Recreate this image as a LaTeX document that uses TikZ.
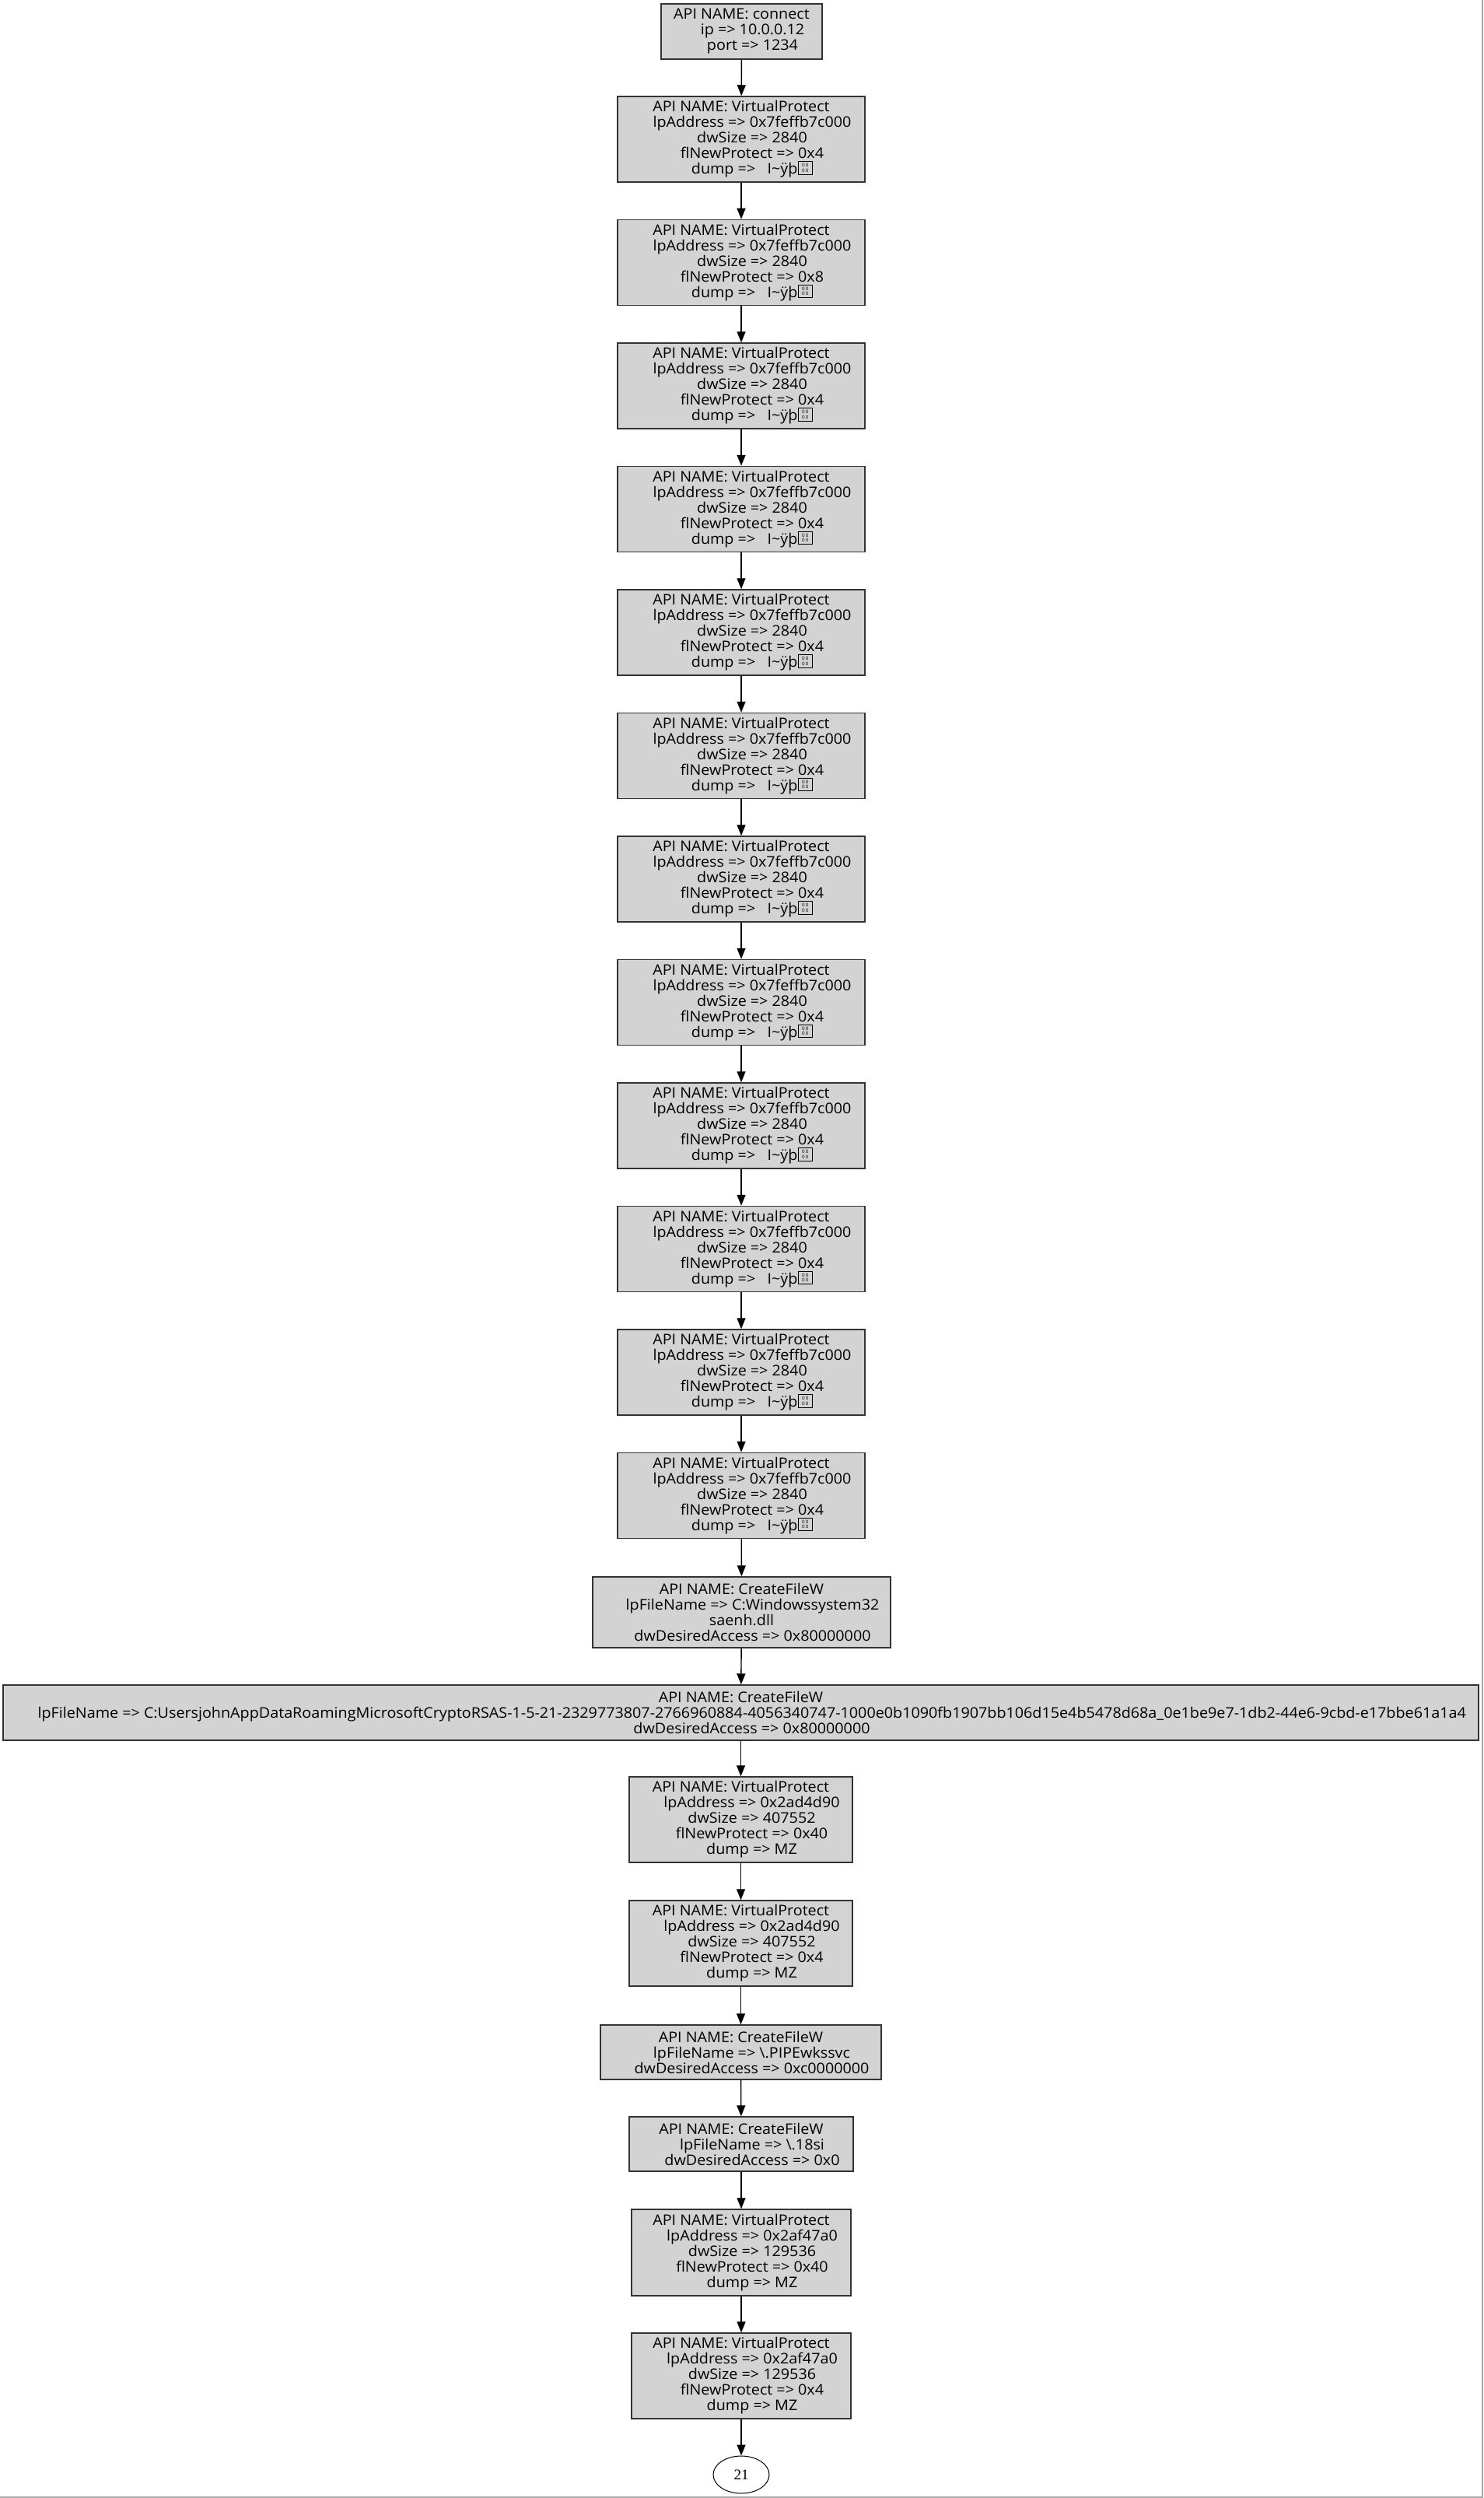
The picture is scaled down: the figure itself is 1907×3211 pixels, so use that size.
\documentclass[tikz,border=0pt]{standalone}
\usepackage{fontspec}
\setmainfont[FakeStretch=1.05]{Open Sans}
\newfontfamily\myseriffont{Liberation Serif}
\usetikzlibrary{arrows.meta,shapes.geometric}
\definecolor{boxgray}{HTML}{D3D3D3}
\definecolor{framegray}{HTML}{A8A8A8}
\newcommand{\myind}{\hspace*{14pt}}
\newcommand{\mytofu}{\setlength{\fboxsep}{0pt}\setlength{\fboxrule}{0.4pt}\fbox{\parbox[b][8pt][c]{9pt}{\centering\fontsize{3}{3.4}\selectfont 0\,0\\0\,0}}}
\newcommand{\vptext}[1]{API NAME: VirtualProtect\\\myind lpAddress => 0x7feffb7c000\\\myind dwSize => 2840\\\myind flNewProtect => #1\\\myind dump => \ \ I\textasciitilde ÿþ\mytofu}
\tikzset{
  apibox/.style={draw=black!80, fill=boxgray, line width=0.75pt, rectangle, align=center, inner sep=0pt, font=\fontsize{9.4}{10}\selectfont},
  flow/.style={-{Triangle[length=7pt,width=5.5pt]}, line width=0.7pt, black}
}
\begin{document}
\begin{tikzpicture}[x=0.5pt,y=0.5pt]
\useasboundingbox (0,0) rectangle (1907,-3211);
\fill[white] (0,0) rectangle (1907,-3211);
\draw[framegray, line width=1pt] (1906,0) -- (1906,-3210) -- (0,-3210);

\node[apibox, minimum width=103.5pt, minimum height=35.5pt] (c1) at (953.5,-40.5)
  {API NAME: connect\\\myind ip => 10.0.0.12\\\myind port => 1234};

\foreach \k in {0,...,11} {
  \node[apibox, minimum width=159pt, minimum height=55pt] (vp\k) at (953,{-(179+158.5*\k)})
    {\vptext{\ifnum\k=1 0x8\else 0x4\fi}};
}

\node[apibox, minimum width=191.5pt, minimum height=45.5pt] (cf1) at (953.5,-2072.5)
  {API NAME: CreateFileW\\\myind lpFileName => C:Windowssystem32\\saenh.dll\\\myind dwDesiredAccess => 0x80000000};

\node[apibox, minimum width=948.5pt, minimum height=35.5pt] (cf2) at (952.5,-2201.5)
  {API NAME: CreateFileW\\\myind lpFileName => C:UsersjohnAppDataRoamingMicrosoftCryptoRSAS-1-5-21-2329773807-2766960884-4056340747-1000e0b1090fb1907bb106d15e4b5478d68a\_0e1be9e7-1db2-44e6-9cbd-e17bbe61a1a4\\\myind dwDesiredAccess => 0x80000000};

\node[apibox, minimum width=143.5pt, minimum height=55pt] (vpa) at (952.5,-2339)
  {API NAME: VirtualProtect\\\myind lpAddress => 0x2ad4d90\\\myind dwSize => 407552\\\myind flNewProtect => 0x40\\\myind dump => MZ};
\node[apibox, minimum width=143.5pt, minimum height=55pt] (vpb) at (952.5,-2498)
  {API NAME: VirtualProtect\\\myind lpAddress => 0x2ad4d90\\\myind dwSize => 407552\\\myind flNewProtect => 0x4\\\myind dump => MZ};

\node[apibox, minimum width=180.5pt, minimum height=35pt] (cf3) at (952.5,-2638)
  {API NAME: CreateFileW\\\myind lpFileName => \textbackslash.PIPEwkssvc\\\myind dwDesiredAccess => 0xc0000000};
\node[apibox, minimum width=144pt, minimum height=35pt] (cf4) at (953,-2756)
  {API NAME: CreateFileW\\\myind lpFileName => \textbackslash.18si\\\myind dwDesiredAccess => 0x0};

\node[apibox, minimum width=141pt, minimum height=55.5pt] (vpc) at (953,-2895.5)
  {API NAME: VirtualProtect\\\myind lpAddress => 0x2af47a0\\\myind dwSize => 129536\\\myind flNewProtect => 0x40\\\myind dump => MZ};
\node[apibox, minimum width=141pt, minimum height=55pt] (vpd) at (953,-3054)
  {API NAME: VirtualProtect\\\myind lpAddress => 0x2af47a0\\\myind dwSize => 129536\\\myind flNewProtect => 0x4\\\myind dump => MZ};

\node[draw=black, fill=white, ellipse, line width=0.5pt, minimum width=36pt, minimum height=24pt, inner sep=0pt, font=\myseriffont\fontsize{9.5}{10}\selectfont] (end) at (953,-3181) {21};

\draw[flow] (c1) -- (vp0);
\foreach \k [evaluate=\k as \j using int(\k+1)] in {0,...,10} {
  \draw[flow] (vp\k) -- (vp\j);
}
\draw[flow] (vp11) -- (cf1);
\draw[flow] (cf1) -- (cf2);
\draw[flow] (cf2) -- (vpa);
\draw[flow] (vpa) -- (vpb);
\draw[flow] (vpb) -- (cf3);
\draw[flow] (cf3) -- (cf4);
\draw[flow] (cf4) -- (vpc);
\draw[flow] (vpc) -- (vpd);
\draw[flow] (vpd) -- (end);
\end{tikzpicture}
\end{document}
